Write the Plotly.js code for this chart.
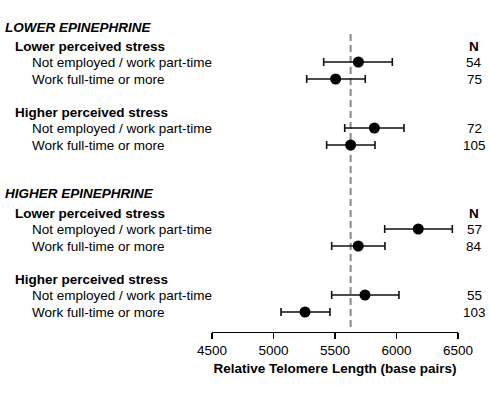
<!DOCTYPE html>
<html>
<head>
<meta charset="utf-8">
<script src="https://cdn.plot.ly/plotly-3.0.1.min.js"></script>
<style>html,body{margin:0;padding:0;background:#fff;}#chart{width:490px;height:396px;}</style>
</head>
<body>
<div id="chart"></div>
<script>
// Data
var groups = ["LOWER EPINEPHRINE", "HIGHER EPINEPHRINE"];
var stressLevels = ["Lower perceived stress", "Higher perceived stress"];
var employment = ["Not employed / work part-time", "Work full-time or more"];
var meanTL = [5690, 5505, 5820, 5627, 6177, 5689, 5744, 5256];
var ciLow  = [5408, 5270, 5579, 5432, 5904, 5473, 5473, 5061];
var ciHigh = [5966, 5746, 6061, 5825, 6454, 5906, 6020, 5459];
var nVals  = [54, 75, 72, 105, 57, 84, 55, 103];
var refLine = 5627;
var xTicks = [4500, 5000, 5500, 6000, 6500];

// Layout positions (vertical text rows, in pixels from top)
var groupRowY = [27, 193];
var stressRowY = [46, 112, 213, 279];
var dataRowY = [62, 79, 128, 145, 229, 246, 295, 312];

var plotL = 212, plotR = 458;
function px2paper(px){ return (px - plotL) / (plotR - plotL); }

var FONT = "Liberation Sans, Arial, sans-serif";
var fs = 13.5;

var trace = {
  x: meanTL,
  y: dataRowY,
  type: "scatter",
  mode: "markers",
  marker: {color: "#000", size: 11},
  error_x: {
    type: "data", symmetric: false,
    array: meanTL.map(function(m,i){return ciHigh[i]-m;}),
    arrayminus: meanTL.map(function(m,i){return m-ciLow[i];}),
    color: "#111", thickness: 1.6, width: 4
  },
  hoverinfo: "x",
  showlegend: false,
  cliponaxis: false
};

var ann = [];
groups.forEach(function(g, gi){
  ann.push({text: "<b><i>" + g + "</i></b>", x: px2paper(3), y: groupRowY[gi], xref: "paper", yref: "y",
    xanchor: "left", yanchor: "middle", showarrow: false, font: {family: FONT, size: fs, color: "#000"}});
  stressLevels.forEach(function(s, si){
    var k = gi*2 + si;
    ann.push({text: "<b>" + s + "</b>", x: px2paper(13), y: stressRowY[k], xref: "paper", yref: "y",
      xanchor: "left", yanchor: "middle", showarrow: false, font: {family: FONT, size: fs, color: "#000"}});
    employment.forEach(function(e, ei){
      var r = k*2 + ei;
      ann.push({text: e, x: px2paper(30), y: dataRowY[r], xref: "paper", yref: "y",
        xanchor: "left", yanchor: "middle", showarrow: false, font: {family: FONT, size: fs, color: "#000"}});
    });
  });
  ann.push({text: "<b>N</b>", x: px2paper(474), y: stressRowY[gi*2], xref: "paper", yref: "y",
    xanchor: "center", yanchor: "middle", showarrow: false, font: {family: FONT, size: fs, color: "#000"}});
});
nVals.forEach(function(n, i){
  ann.push({text: String(n), x: px2paper(474), y: dataRowY[i], xref: "paper", yref: "y",
    xanchor: "center", yanchor: "middle", showarrow: false, font: {family: FONT, size: fs, color: "#000"}});
});

var layout = {
  width: 490, height: 396,
  margin: {l: plotL, r: 490 - plotR, t: 0, b: 64},
  paper_bgcolor: "#fff", plot_bgcolor: "#fff",
  xaxis: {
    range: [4500, 6500], tickvals: xTicks, ticktext: xTicks.map(String),
    showgrid: false, zeroline: false, showline: true, linecolor: "#000", linewidth: 1.2,
    ticks: "outside", ticklen: 6, tickcolor: "#000", tickwidth: 1.2,
    tickfont: {family: FONT, size: 13.5, color: "#000"},
    title: {text: "<b>Relative Telomere Length (base pairs)</b>", font: {family: FONT, size: 13.5, color: "#000"}, standoff: 6},
    fixedrange: true
  },
  yaxis: {
    range: [332, 0], visible: false, showgrid: false, zeroline: false, fixedrange: true
  },
  shapes: [{
    type: "line", xref: "x", yref: "y", x0: refLine, x1: refLine, y0: 34, y1: 330,
    line: {color: "#888", width: 2, dash: "7px,4px"}, layer: "below"
  }],
  annotations: ann
};

Plotly.newPlot("chart", [trace], layout, {displayModeBar: false, staticPlot: true});
</script>
</body>
</html>
